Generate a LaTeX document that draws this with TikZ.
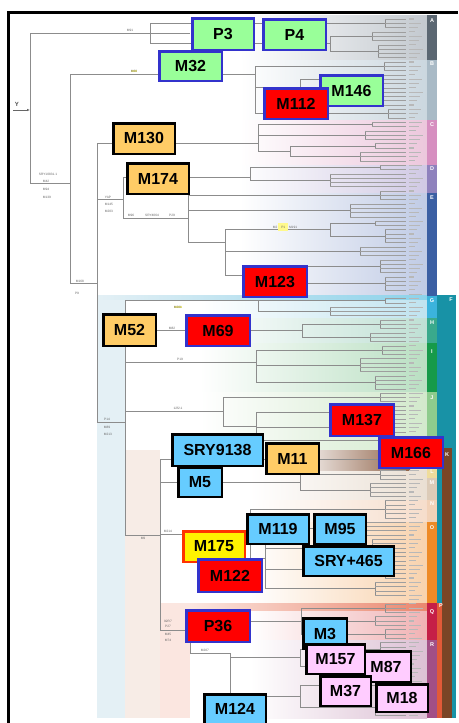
\documentclass[tikz,border=0pt]{standalone}
\usepackage{fontspec}
\setmainfont{Liberation Sans}
\usetikzlibrary{arrows.meta}
\definecolor{boxgreen}{HTML}{99FF99}
\definecolor{boxblue}{HTML}{3333CC}
\definecolor{boxorange}{HTML}{FFCC66}
\definecolor{boxcyan}{HTML}{66CCFF}
\definecolor{boxredline}{HTML}{FF3300}
\definecolor{boxpink}{HTML}{FFCCFF}
\definecolor{grpA}{HTML}{5B6772}
\definecolor{grpB}{HTML}{A9BAC6}
\definecolor{grpC}{HTML}{D68FC0}
\definecolor{grpD}{HTML}{8F82BD}
\definecolor{grpE}{HTML}{3B5FA3}
\definecolor{grpG}{HTML}{3BB3DC}
\definecolor{grpH}{HTML}{3AA98C}
\definecolor{grpI}{HTML}{169A4A}
\definecolor{grpJ}{HTML}{8ECB8D}
\definecolor{grpL}{HTML}{EFDC9C}
\definecolor{grpM}{HTML}{DCCBB8}
\definecolor{grpN}{HTML}{F2D2B8}
\definecolor{grpO}{HTML}{EE8A26}
\definecolor{grpQ}{HTML}{C51F47}
\definecolor{grpR}{HTML}{A24F86}
\definecolor{grpP}{HTML}{E25A38}
\definecolor{tealF}{HTML}{1892A6}
\definecolor{brownK}{HTML}{7A4526}
\definecolor{tA}{HTML}{C3C9CF}
\definecolor{tB}{HTML}{CBD7DF}
\definecolor{tC}{HTML}{ECC7DC}
\definecolor{tD}{HTML}{D0C9E4}
\definecolor{tE}{HTML}{C0CBE5}
\definecolor{tG}{HTML}{BFE3EF}
\definecolor{tH}{HTML}{BFE0D4}
\definecolor{tI}{HTML}{B9DFC2}
\definecolor{tJ}{HTML}{D2E9CC}
\definecolor{tL}{HTML}{F3E7C6}
\definecolor{tM}{HTML}{EADFD3}
\definecolor{tN}{HTML}{F6DDCB}
\definecolor{tO}{HTML}{F8D2AD}
\definecolor{tQ}{HTML}{F0B2B4}
\definecolor{tR}{HTML}{DCC0D4}
\definecolor{stripF}{HTML}{E4F0F5}
\definecolor{stripK}{HTML}{F7ECE6}
\definecolor{stripP}{HTML}{FBE6E0}
\tikzset{
  tr/.style={draw=black!45, line width=0.7pt},
  lf/.style={draw=black!38, line width=0.5pt},
  tx/.style={draw=black!28, line width=1.1pt},
  box/.style={rectangle, line width=2.5pt, inner sep=0pt,
    font=\fontsize{16}{16}\selectfont\bfseries, text=black},
  gbox/.style={box, fill=boxgreen, draw=boxblue},
  rbox/.style={box, fill=red, draw=boxblue},
  obox/.style={box, fill=boxorange, draw=black},
  bbox/.style={box, fill=boxcyan, draw=black},
  ybox/.style={box, fill=yellow, draw=boxredline},
  pbox/.style={box, fill=boxpink, draw=black},
  lbl/.style={font=\fontsize{3.2}{3.5}\selectfont, text=black!60, inner sep=0.2pt},
  hlbl/.style={lbl, fill=yellow!45},
  gl/.style={font=\fontsize{5.5}{6}\selectfont\bfseries, text=white, inner sep=0pt},
}
\newcommand\putbox[7]{\node[#2, minimum width={#5-#3-2.5}, minimum height={#6-#4-2.5}] (#1) at ({(#3+#5)/2},{(#4+#6)/2}) {#7};}
\newcommand\leafs[3]{%
  \draw[tr] (#3,{19+4.3*#1}) -- (#3,{19+4.3*#2});
  \foreach \k in {#1,...,#2}{\draw[lf] (#3,{19+4.3*\k}) -- (406,{19+4.3*\k});}}
\newcommand\hseg[3]{\draw[tr] (#1,#3) -- (#2,#3);}
\newcommand\vseg[3]{\draw[tr] (#1,#2) -- (#1,#3);}
\begin{document}
\begin{tikzpicture}[x=1pt,y=-1pt]
\useasboundingbox (0,0) rectangle (458,723);
\fill[white] (0,0) rectangle (458,723);

% ---------- background tints ----------
\fill[left color=white,right color=tA] (240,15) rectangle (427,60);
\fill[left color=white,right color=tB] (240,60) rectangle (427,120);
\fill[left color=white,right color=tC] (240,120) rectangle (427,165);
\fill[left color=white,right color=tD] (240,165) rectangle (427,193);
\fill[left color=white,right color=tE] (240,193) rectangle (427,296);
\fill[left color=white,right color=tG] (200,296) rectangle (427,318);
\fill[left color=white,right color=tH] (200,318) rectangle (427,343);
\fill[left color=white,right color=tI] (200,343) rectangle (427,392);
\fill[left color=white,right color=tJ] (200,392) rectangle (427,450);
\fill[left color=white,right color=tL] (250,450) rectangle (427,470);
\fill[left color=white,right color=tM] (250,470) rectangle (427,500);
\fill[left color=white,right color=tN] (250,500) rectangle (427,522);
\fill[left color=white,right color=tO] (250,522) rectangle (427,603);
\fill[left color=white,right color=tQ] (250,603) rectangle (427,640);
\fill[left color=white,right color=tR] (250,640) rectangle (427,718);
\fill[stripF] (97,296) rectangle (125,718);
\fill[stripK] (125,450) rectangle (160,718);
\fill[stripP] (160,603) rectangle (190,718);
\fill[left color=stripF, right color=grpG!60] (97,295) rectangle (437,299);
\fill[left color=white, right color=brownK!85] (290,450) rectangle (410,470);
\fill[left color=stripP, right color=grpP!75] (190,603) rectangle (437,610);

% ---------- tree ----------
\coordinate (ystart) at (13,110);
\coordinate (root) at (30,110);
\draw[-{Latex[length=3pt,width=2.5pt]}, black!60, line width=0.8pt] (ystart) -- (root);
\node[font=\fontsize{6}{6}\selectfont\bfseries, text=black!70, inner sep=0pt] (ylab) at (17,104) {Y};

\vseg{30}{33}{183}
\hseg{30}{150}{33}
\hseg{30}{70}{183}
\vseg{70}{74}{283}
\hseg{70}{255}{74}
\hseg{70}{97}{283}
\vseg{97}{143}{422}
\hseg{97}{258}{143}
\hseg{97}{123}{199}
\hseg{97}{125}{422}
% A
\vseg{150}{23.3}{43.7}
\hseg{150}{385}{23.3}
\hseg{150}{190}{33}
\hseg{150}{330}{43.7}
\vseg{330}{36.2}{51.25}
\hseg{330}{372}{36.2}
\hseg{330}{378}{51.25}
\leafs{0}{2}{385}\leafs{3}{5}{372}\leafs{6}{9}{378}
% B
\vseg{255}{66.3}{113.6}
\hseg{255}{384}{66.3}\leafs{10}{12}{384}
\hseg{255}{300}{87.8}\vseg{300}{79.2}{96.4}
\hseg{300}{380}{79.2}\leafs{13}{15}{380}
\hseg{300}{370}{96.4}\leafs{16}{20}{370}
\hseg{255}{388}{113.6}\leafs{21}{23}{388}
% C
\vseg{258}{124.35}{151.2}
\hseg{258}{372}{124.35}\leafs{24}{25}{372}
\hseg{258}{365}{135.1}\leafs{26}{28}{365}
\hseg{258}{290}{151.2}\vseg{290}{145.85}{156.6}
\hseg{290}{375}{145.85}\leafs{29}{30}{375}
\hseg{290}{360}{156.6}\leafs{31}{33}{360}
% DE
\vseg{123}{177}{218}
\hseg{123}{250}{177}\vseg{250}{167.35}{180.25}
\hseg{250}{380}{167.35}\leafs{34}{35}{380}
\hseg{250}{330}{180.25}\leafs{36}{39}{330}
% E
\hseg{123}{188}{218}\vseg{188}{195.3}{242}
\hseg{188}{380}{195.3}\leafs{40}{42}{380}
\hseg{188}{350}{210.35}\leafs{43}{46}{350}
\hseg{188}{225}{242}\vseg{225}{229.7}{274.85}
\hseg{225}{330}{229.7}\vseg{330}{223.25}{236.15}
\hseg{330}{375}{223.25}\leafs{47}{48}{375}
\hseg{330}{385}{236.15}\leafs{49}{52}{385}
\hseg{225}{360}{251.2}\leafs{53}{55}{360}
\hseg{225}{258}{274.85}\vseg{258}{266.25}{283.45}
\hseg{258}{380}{266.25}\leafs{56}{59}{380}
\hseg{258}{385}{283.45}\leafs{60}{63}{385}
% F
\vseg{125}{300.65}{535}
\hseg{125}{385}{300.65}\leafs{65}{66}{385}
\vseg{258}{300.65}{311.4}\hseg{258}{330}{311.4}\leafs{67}{69}{330}
\hseg{125}{302}{330.75}\vseg{302}{324.3}{337.2}
\hseg{302}{380}{324.3}\leafs{70}{72}{380}
\hseg{302}{370}{337.2}\leafs{73}{75}{370}
\hseg{125}{256}{362}\vseg{256}{350.1}{382.35}
\hseg{256}{382}{350.1}\leafs{76}{78}{382}
\hseg{256}{360}{365.15}\leafs{79}{82}{360}
\hseg{256}{375}{382.35}\leafs{83}{86}{375}
\hseg{125}{223}{411}\vseg{223}{397.4}{426.4}
\hseg{223}{380}{397.4}\leafs{87}{89}{380}
\hseg{223}{256}{426.4}\vseg{256}{412.45}{440.4}
\hseg{256}{360}{412.45}\leafs{90}{93}{360}
\hseg{256}{375}{427.5}\leafs{94}{96}{375}
\hseg{256}{385}{440.4}\leafs{97}{99}{385}
% K
\hseg{125}{160}{535}\vseg{160}{459.75}{630}
\hseg{160}{390}{459.75}\leafs{101}{104}{390}
\hseg{160}{300}{482.3}\vseg{300}{474.8}{489.85}
\hseg{300}{380}{474.8}\leafs{105}{107}{380}
\hseg{300}{370}{489.85}\leafs{108}{111}{370}
\hseg{160}{250}{533.9}\vseg{250}{509.2}{558.65}
\hseg{250}{385}{509.2}\leafs{112}{116}{385}
\hseg{250}{265}{558.65}\vseg{265}{528.55}{588.75}
\hseg{265}{350}{528.55}\leafs{117}{120}{350}
\hseg{265}{372}{547.9}\leafs{121}{125}{372}
\hseg{265}{385}{569.4}\leafs{126}{130}{385}
\hseg{265}{375}{588.75}\leafs{131}{134}{375}
% P
\hseg{160}{190}{630}\vseg{190}{621}{653}
\hseg{190}{301}{621}\vseg{301}{608.1}{633.9}
\hseg{301}{385}{608.1}\leafs{136}{138}{385}
\hseg{301}{375}{621}\leafs{139}{141}{375}
\hseg{301}{385}{633.9}\leafs{142}{144}{385}
\hseg{190}{230}{653}\vseg{230}{653}{696.25}
\hseg{230}{300}{657.55}\vseg{300}{648.95}{666.15}
\hseg{300}{380}{648.95}\leafs{145}{148}{380}
\hseg{300}{370}{666.15}\leafs{149}{152}{370}
\hseg{230}{300}{696.25}\vseg{300}{685.5}{707}
\hseg{300}{385}{685.5}\leafs{153}{157}{385}
\hseg{300}{375}{707}\leafs{158}{162}{375}

% leaf name texture
\foreach \k in {0,...,162}{%
  \pgfmathsetmacro\yy{19+4.3*\k}\pgfmathsetmacro\ll{5+mod(\k*7,10)}%
  \draw[tx] (409,\yy) -- ({409+\ll},\yy);}

% small branch labels
\node[lbl] (t1) at (130,30) {M91};
\node[hlbl] (t2) at (134,71) {M60};
\node[lbl] (t3) at (48,174) {SRY10831.1};
\node[lbl] (t4) at (46,181) {M42};
\node[lbl] (t5) at (46,189) {M94};
\node[lbl] (t6) at (47,197) {M139};
\node[lbl] (t7) at (80,281) {M168};
\node[lbl] (t8) at (77,293) {P9};
\node[lbl] (t9) at (108,197) {YAP};
\node[lbl] (t10) at (109,204) {M145};
\node[lbl] (t11) at (109,211) {M203};
\node[lbl] (t12) at (131,215) {M96};
\node[lbl] (t13) at (152,215) {SRY4064};
\node[lbl] (t14) at (172,215) {P29};
\node[lbl] (t15) at (107,419) {P14};
\node[lbl] (t16) at (107,427) {M89};
\node[lbl] (t17) at (108,434) {M213};
\node[lbl] (t18) at (143,538) {M9};
\node[lbl] (t19) at (168,531) {M214};
\node[lbl] (t20) at (168,621) {92R7};
\node[lbl] (t21) at (168,626.5) {P27};
\node[lbl] (t22) at (168,634.5) {M45};
\node[lbl] (t23) at (168,640) {M74};
\node[lbl] (t24) at (205,650) {M207};
\node[hlbl] (t25) at (178,307) {M201};
\node[lbl] (t26) at (172,328) {M82};
\node[lbl] (t27) at (180,359) {P19};
\node[lbl] (t28) at (178,408) {12f2.1};
\node[lbl] (t29) at (285,227) {M2 \colorbox{yellow!45}{P1} M191};

% ---------- right colour columns ----------
\fill[tealF] (437,295) rectangle (456,718);
\fill[brownK] (442,448) rectangle (452,718);
\fill[grpP] (437,603) rectangle (442,718);
\fill[grpA] (427,15) rectangle (437,60);
\fill[grpB] (427,60) rectangle (437,120);
\fill[grpC] (427,120) rectangle (437,165);
\fill[grpD] (427,165) rectangle (437,193);
\fill[grpE] (427,193) rectangle (437,296);
\fill[grpG] (427,296) rectangle (437,318);
\fill[grpH] (427,318) rectangle (437,343);
\fill[grpI] (427,343) rectangle (437,392);
\fill[grpJ] (427,392) rectangle (437,450);
\fill[tL] (427,450) rectangle (437,463);
\fill[grpL] (427,463) rectangle (437,478);
\fill[grpM] (427,478) rectangle (437,500);
\fill[grpN] (427,500) rectangle (437,522);
\fill[grpO] (427,522) rectangle (437,603);
\fill[grpQ] (427,603) rectangle (437,640);
\fill[grpR] (427,640) rectangle (437,718);
\node[gl] (la) at (432,21) {A};
\node[gl] (lb) at (432,64) {B};
\node[gl] (lc) at (432,125) {C};
\node[gl] (ld) at (432,169) {D};
\node[gl] (le) at (432,198) {E};
\node[gl] (lf) at (451,300) {F};
\node[gl] (lg) at (432,301) {G};
\node[gl] (lh) at (432,323) {H};
\node[gl] (li) at (432,352) {I};
\node[gl] (lj) at (432,398) {J};
\node[gl] (lk) at (447,455) {K};
\node[gl] (ll) at (432,472) {L};
\node[gl] (lm) at (432,483) {M};
\node[gl] (ln) at (432,504) {N};
\node[gl] (lo) at (432,528) {O};
\node[gl] (lp) at (441,606) {P};
\node[gl] (lq) at (432,612) {Q};
\node[gl] (lr) at (432,645) {R};

% ---------- marker boxes ----------
\putbox{p3}{gbox}{191}{17}{255}{51}{P3}
\putbox{p4}{gbox}{262}{18}{327}{51}{P4}
\putbox{m32}{gbox}{158}{50}{223}{82}{M32}
\putbox{m146}{gbox}{319}{74}{384}{107}{M146}
\putbox{m112}{rbox}{263}{87}{329}{120}{M112}
\putbox{m130}{obox}{112}{122}{176}{155}{M130}
\putbox{m174}{obox}{126}{162}{190}{195}{M174}
\putbox{m123}{rbox}{242}{265}{308}{298}{M123}
\putbox{m52}{obox}{102}{313}{157}{347}{M52}
\putbox{m69}{rbox}{185}{314}{251}{347}{M69}
\putbox{m137}{rbox}{329}{403}{395}{437}{M137}
\putbox{m166}{rbox}{378}{436}{444}{469}{M166}
\putbox{sry9138}{bbox}{171}{433}{264}{467}{SRY9138}
\putbox{m5}{bbox}{177}{466}{223}{498}{M5}
\putbox{m11}{obox}{265}{442}{320}{475}{M11}
\putbox{m119}{bbox}{246}{513}{310}{545}{M119}
\putbox{m95}{bbox}{313}{513}{367}{545}{M95}
\putbox{sry465}{bbox}{302}{545}{395}{577}{SRY+465}
\putbox{m175}{ybox}{182}{530}{246}{563}{M175}
\putbox{m122}{rbox}{197}{558}{263}{593}{M122}
\putbox{p36}{rbox}{185}{609}{251}{643}{P36}
\putbox{m3}{bbox}{302}{617}{348}{650}{M3}
\putbox{m87}{pbox}{360}{650}{412}{683}{M87}
\putbox{m157}{pbox}{305}{643}{366}{675}{M157}
\putbox{m37}{pbox}{319}{675}{372}{707}{M37}
\putbox{m18}{pbox}{375}{683}{429}{713}{M18}
\putbox{m124}{bbox}{203}{693}{267}{725}{M124}

% ---------- frame ----------
\draw[line width=3pt, black] (8,723) -- (8,12) -- (458,12);
\end{tikzpicture}
\end{document}
